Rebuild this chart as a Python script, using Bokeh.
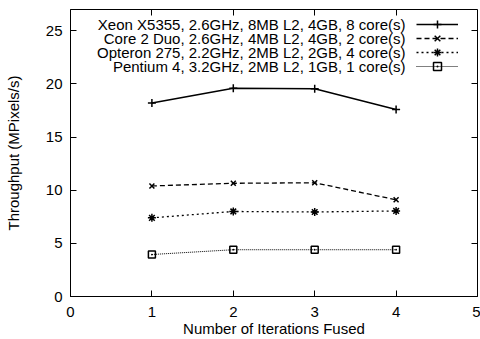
from bokeh.plotting import figure
from bokeh.models import LinearAxis, Legend, LegendItem, Range1d, FixedTicker, Label
from bokeh.embed import file_html
from bokeh.resources import INLINE

iterations = [1, 2, 3, 4]
xeon = [18.2, 19.6, 19.55, 17.6]
core2 = [10.4, 10.65, 10.7, 9.1]
opteron = [7.4, 8.0, 7.95, 8.05]
pentium = [3.95, 4.4, 4.4, 4.4]

labels = [
    "Xeon X5355, 2.6GHz, 8MB L2, 4GB, 8 core(s)",
    "Core 2 Duo, 2.6GHz, 4MB L2, 4GB, 2 core(s)",
    "Opteron 275, 2.2GHz, 2MB L2, 2GB, 4 core(s)",
    "Pentium 4, 3.2GHz, 2MB L2, 1GB, 1 core(s)",
]
x_title = "Number of Iterations Fused"
y_title = "Throughput (MPixels/s)"
x_ticks = [0, 1, 2, 3, 4, 5]
y_ticks = [0, 5, 10, 15, 20, 25]
X_MIN, X_MAX, Y_MIN, Y_MAX = 0, 5, 0, 27

FONT = "Liberation Sans"
FS = "15px"

p = figure(width=480, height=339, output_backend="svg", toolbar_location=None,
           x_range=Range1d(X_MIN, X_MAX), y_range=Range1d(Y_MIN, Y_MAX),
           min_border_left=70, min_border_right=3, min_border_top=9, min_border_bottom=43)
p.grid.visible = False
p.outline_line_color = "black"
p.outline_line_width = 1
p.background_fill_color = "white"

for ax in (p.xaxis[0], p.yaxis[0]):
    ax.major_tick_in = 6
    ax.major_tick_out = 0
    ax.minor_tick_line_color = None
    ax.axis_line_color = "black"
    ax.major_label_text_font = FONT
    ax.major_label_text_font_size = FS
    ax.major_label_text_color = "black"
    ax.axis_label_text_font = FONT
    ax.axis_label_text_font_size = FS
    ax.axis_label_text_font_style = "normal"
    ax.axis_label_text_color = "black"

p.xaxis[0].ticker = FixedTicker(ticks=x_ticks)
p.yaxis[0].ticker = FixedTicker(ticks=y_ticks)
p.xaxis[0].axis_label = x_title
p.yaxis[0].axis_label = y_title
p.xaxis[0].major_label_text_line_height = 1.0
p.xaxis[0].axis_label_text_line_height = 1.0
p.xaxis[0].major_label_standoff = 10
p.xaxis[0].axis_label_standoff = 0
p.yaxis[0].major_label_standoff = 8
p.yaxis[0].axis_label_standoff = 21

# mirrored tick marks on the top and right border (take no layout space)
top = LinearAxis(ticker=FixedTicker(ticks=x_ticks), fixed_location=Y_MAX,
                 major_tick_in=6, major_tick_out=0, minor_tick_line_color=None,
                 major_label_text_font_size="1px", major_label_text_color=None,
                 major_label_standoff=0, axis_line_color=None)
right = LinearAxis(ticker=FixedTicker(ticks=y_ticks), fixed_location=X_MAX,
                   major_tick_in=6, major_tick_out=0, minor_tick_line_color=None,
                   major_label_text_font_size="1px", major_label_text_color=None,
                   major_label_standoff=0, axis_line_color=None)
p.add_layout(top, "above")
p.add_layout(right, "right")

series = [
    (xeon, dict(line_width=1.5), "cross", 8),
    (core2, dict(line_width=1.3, line_dash="5 3"), "x", 7),
    (opteron, dict(line_width=1.3, line_dash="2 3"), "asterisk", 8),
    (pentium, dict(line_width=1.0, line_dash="1 1"), "square_dot", 7),
]

# gnuplot-style key: right-aligned text, sample to its right
row_centers = [272.5, 258.3, 244.1, 229.9]   # px above frame bottom
text_right = 335
sample_left = 346
for (vals, lstyle, marker, msize), lab, yc in zip(series, labels, row_centers):
    l = p.line(iterations, vals, line_color="black", **lstyle)
    s = p.scatter(iterations, vals, marker=marker, size=msize, line_color="black",
                  fill_color=None, line_width=1.5)
    key = Legend(items=[LegendItem(label=" ", renderers=[l, s])],
                 location=(sample_left, yc - 10), glyph_width=42, glyph_height=20,
                 label_height=20, label_width=1, label_standoff=0, padding=0, margin=0,
                 label_text_font=FONT, label_text_font_size=FS,
                 border_line_color=None, background_fill_alpha=0)
    p.add_layout(key, "center")
    p.add_layout(Label(x=text_right, y=yc, x_units="screen", y_units="screen",
                       text=lab, text_align="right", text_baseline="middle",
                       text_font=FONT, text_font_size=FS, text_color="black"))

open("out.html", "w").write(file_html(p, INLINE))
